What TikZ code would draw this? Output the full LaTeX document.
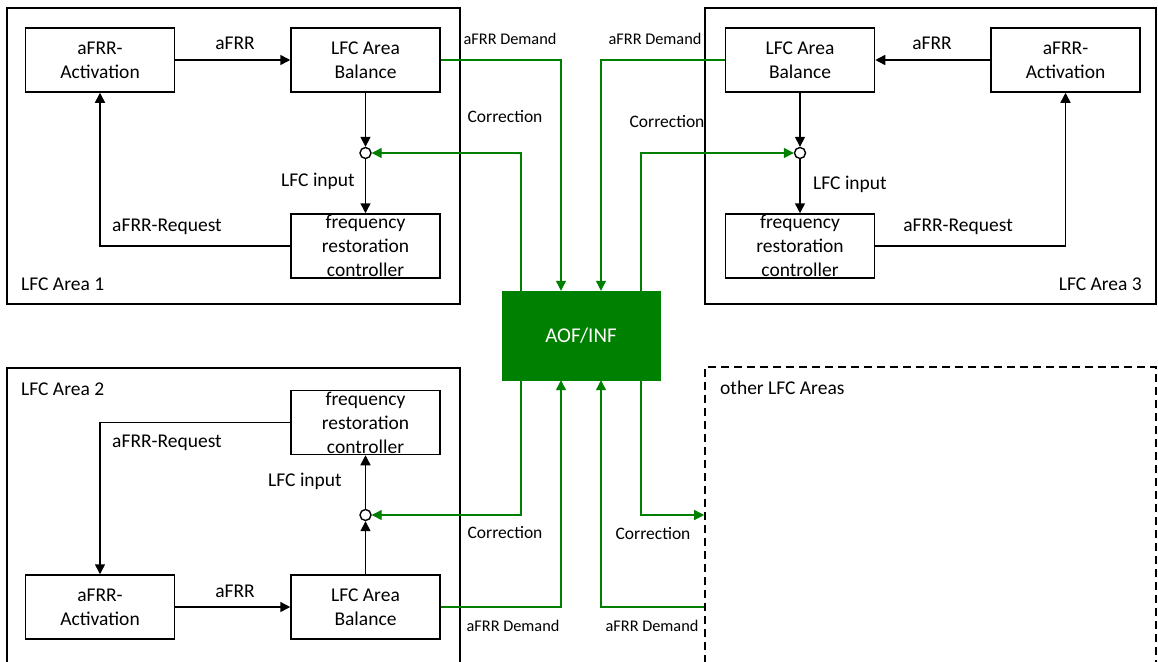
\documentclass[tikz,border=0pt]{standalone}
\usepackage{fontspec}
\setmainfont{Carlito}
\usetikzlibrary{arrows.meta}

\definecolor{aofgreen}{RGB}{0,128,0}
\newcommand{\txtmain}{\fontsize{19.5}{24}\selectfont}
\newcommand{\txtcorr}{\fontsize{17.5}{21}\selectfont}
\newcommand{\txtdem}{\fontsize{16.3}{20}\selectfont}
\newcommand{\txtaof}{\fontsize{21}{25}\selectfont}

\tikzset{
  area/.style={draw, line width=1.6pt, inner sep=0pt},
  blk/.style={draw, line width=1.5pt, minimum width=149pt, minimum height=64pt,
    inner sep=0pt, align=center, font=\txtmain},
  frq/.style={blk, label={[align=center, font=\txtmain]center:frequency\\restoration\\controller}},
  sumpt/.style={circle, draw, fill=white, line width=1.4pt, minimum size=11pt, inner sep=0pt},
  bline/.style={line width=1.5pt, -{Triangle[length=10pt,width=10pt]}},
  garr/.style={draw=aofgreen, line width=1.2pt, -{Triangle[length=10pt,width=10pt]}, color=aofgreen},
  lbl/.style={anchor=base, inner sep=0pt, font=\txtmain},
}

\begin{document}
\begin{tikzpicture}[x=1pt, y=-1pt]
\useasboundingbox (0,0) rectangle (1158,661);

% area frames
\node[area, minimum width=453pt, minimum height=296pt] (ar1) at (233.5,156) {};
\node[area, minimum width=451pt, minimum height=296pt] (ar3) at (930.5,156) {};
\node[area, minimum width=453pt, minimum height=330pt] (ar2) at (233.5,533) {};
\node[area, dashed, dash pattern=on 8pt off 5pt, minimum width=451pt, minimum height=331pt] (oth) at (930.5,532.5) {};

\node[lbl, anchor=base west] (nm1) at (21,290) {LFC Area 1};
\node[lbl, anchor=base east] (nm3) at (1142,290) {LFC Area 3};
\node[lbl, anchor=base west] (nm2) at (21,395) {LFC Area 2};
\node[lbl, anchor=base west] (nmo) at (720,394) {other LFC Areas};

% LFC Area 1
\node[blk] (act1) at (100,60) {aFRR-\\Activation};
\node[blk] (bal1) at (365.5,60) {LFC Area\\Balance};
\node[sumpt] (sum1) at (365.5,153) {};
\node[frq] (fr1) at (365.5,246) {};

\draw[bline] (act1) -- (bal1);
\draw[bline] (bal1) -- (sum1);
\draw[bline] (sum1) -- (fr1);
\draw[bline] (fr1.west) -| (act1);

\node[lbl] (afrr1) at (235,49) {aFRR};
\node[lbl] (inp1) at (318,186) {LFC input};
\node[lbl] (req1) at (167,231) {aFRR-Request};

% LFC Area 3
\node[blk] (bal3) at (800,60) {LFC Area\\Balance};
\node[blk] (act3) at (1065.5,60) {aFRR-\\Activation};
\node[sumpt] (sum3) at (800,153) {};
\node[frq] (fr3) at (800,246) {};

\draw[bline] (act3) -- (bal3);
\draw[bline] (bal3) -- (sum3);
\draw[bline] (sum3) -- (fr3);
\draw[bline] (fr3.east) -| (act3);

\node[lbl] (afrr3) at (932,49) {aFRR};
\node[lbl] (inp3) at (850,189) {LFC input};
\node[lbl] (req3) at (958,231) {aFRR-Request};

% LFC Area 2
\node[frq] (fr2) at (365.5,422.5) {};
\node[sumpt] (sum2) at (365.5,515) {};
\node[blk] (act2) at (100,607) {aFRR-\\Activation};
\node[blk] (bal2) at (365.5,607) {LFC Area\\Balance};

\draw[bline] (act2) -- (bal2);
\draw[bline] (bal2) -- (sum2);
\draw[bline] (sum2) -- (fr2);
\draw[bline] (fr2.west) -| (act2);

\node[lbl] (afrr2) at (235,597) {aFRR};
\node[lbl] (inp2) at (305,486) {LFC input};
\node[lbl] (req2) at (167,447) {aFRR-Request};

% optimisation function
\node[fill=aofgreen, draw=aofgreen, minimum width=158pt, minimum height=89pt,
  text=white, font=\txtaof] (aof) at (581,335.5) {AOF/INF};

\draw[garr] (bal1.east) -| ([xshift=-20pt]aof.north);
\draw[garr] ([xshift=-60pt]aof.north) |- (sum1);
\draw[garr] (bal3.west) -| ([xshift=20pt]aof.north);
\draw[garr] ([xshift=60pt]aof.north) |- (sum3);
\draw[garr] (bal2.east) -| ([xshift=-20pt]aof.south);
\draw[garr] ([xshift=-60pt]aof.south) |- (sum2);
\draw[garr] ([xshift=60pt]aof.south) |- (oth.west |- sum2);
\draw[garr] (oth.west |- bal2) -| ([xshift=20pt]aof.south);

\node[lbl, font=\txtdem] (dem1) at (510,45) {aFRR Demand};
\node[lbl, font=\txtdem] (dem3) at (655,45) {aFRR Demand};
\node[lbl, font=\txtcorr] (cor1) at (505,122) {Correction};
\node[lbl, font=\txtcorr] (cor3) at (667,127) {Correction};
\node[lbl, font=\txtcorr] (cor2) at (505,538) {Correction};
\node[lbl, font=\txtcorr] (coro) at (653,539) {Correction};
\node[lbl, font=\txtdem] (dem2) at (513,631) {aFRR Demand};
\node[lbl, font=\txtdem] (demo) at (652,631) {aFRR Demand};
\end{tikzpicture}
\end{document}
